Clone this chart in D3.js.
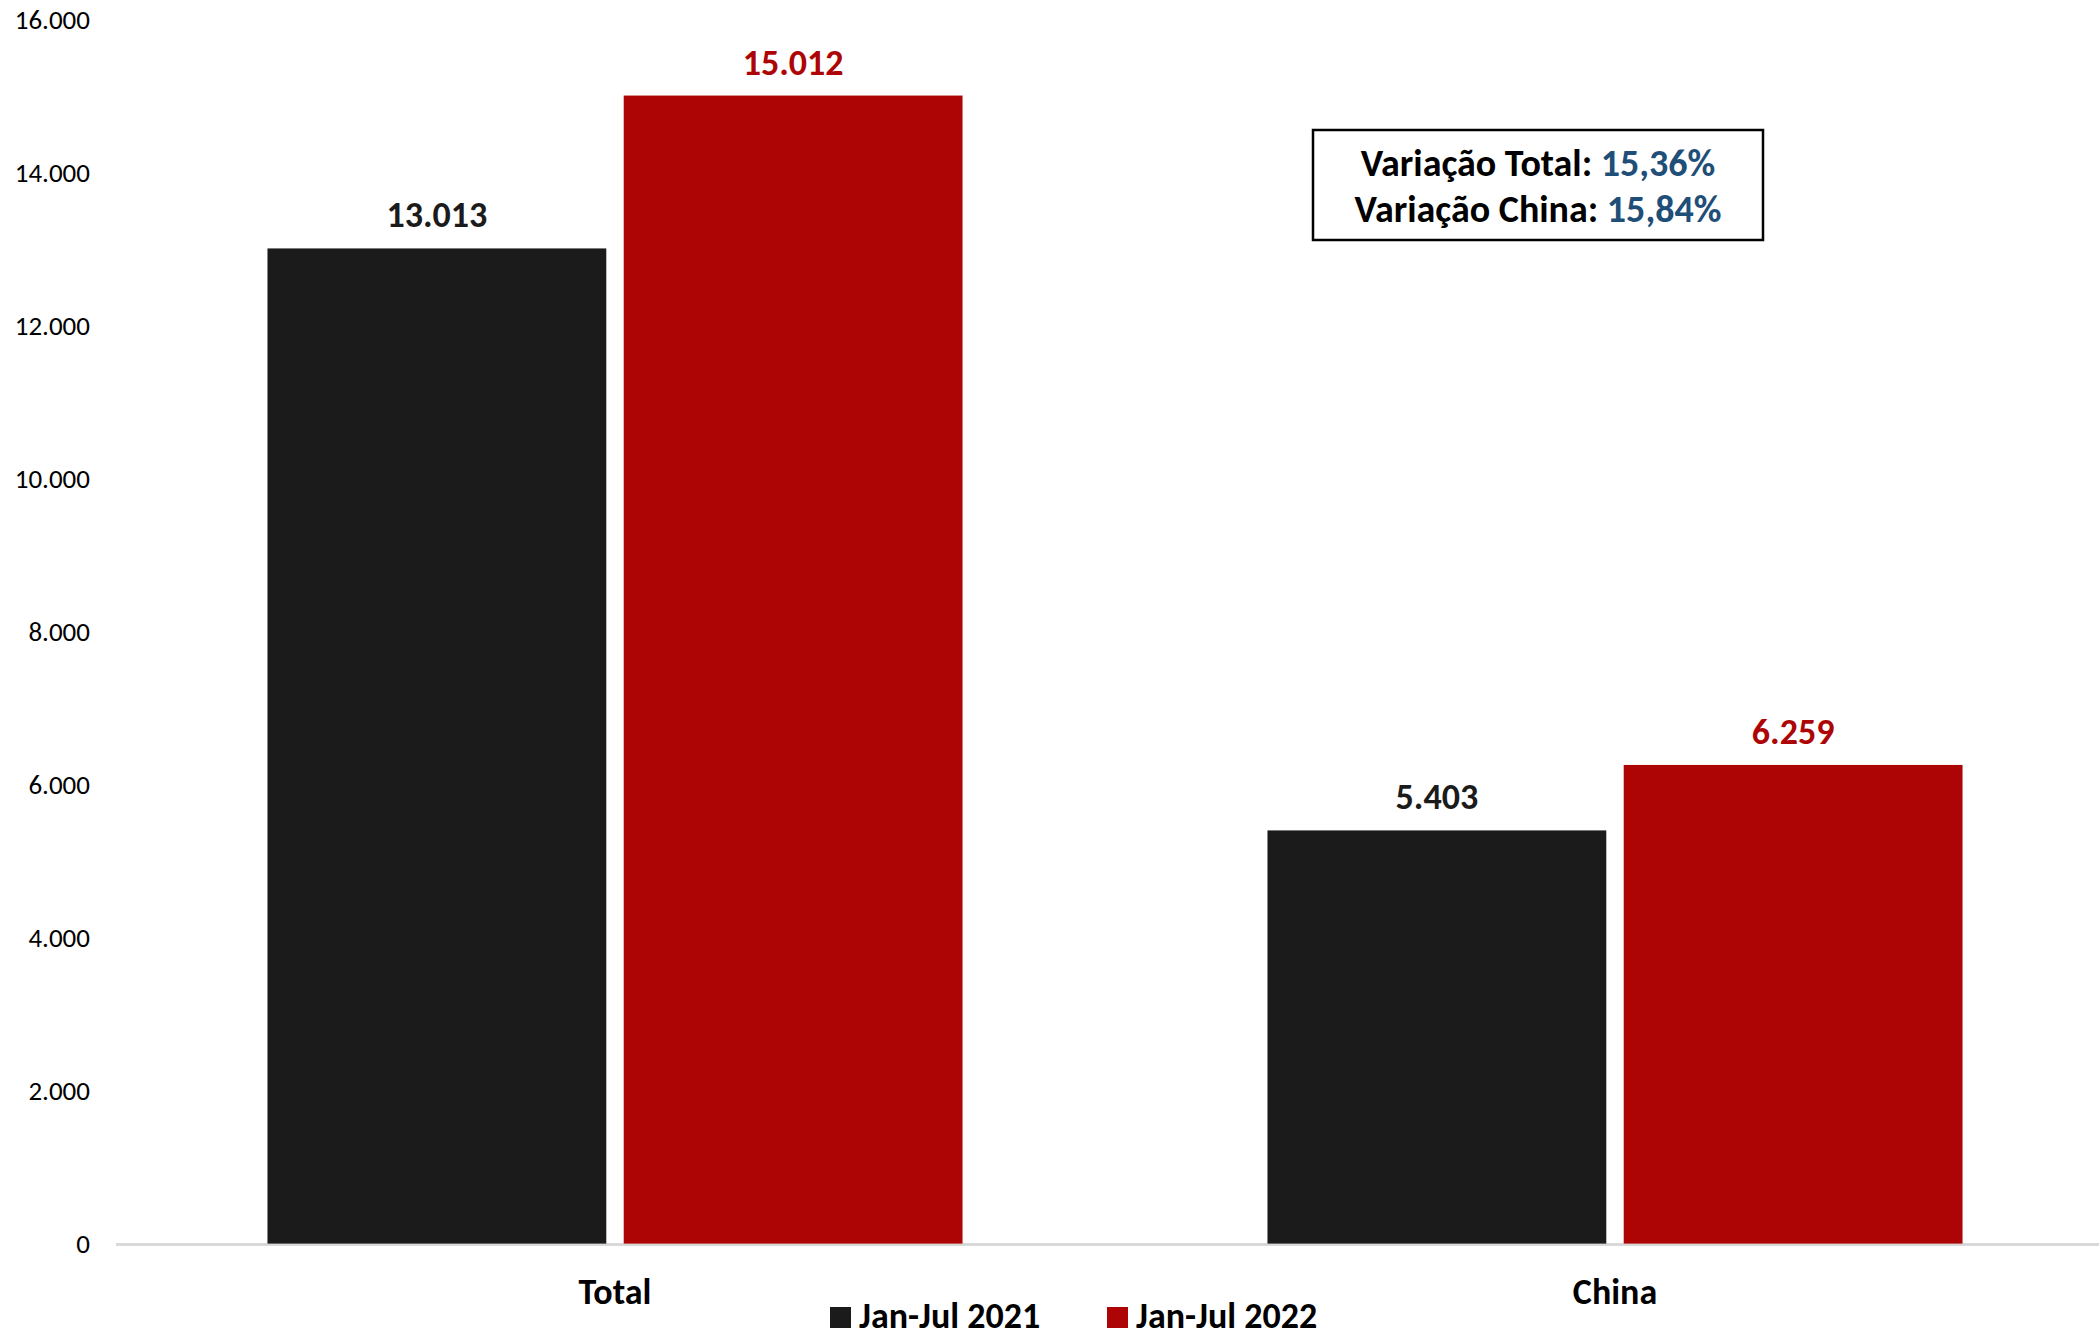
<!DOCTYPE html>
<html>
<head>
<meta charset="utf-8">
<script src="https://cdn.jsdelivr.net/npm/d3@7"></script>
<style>
  body { margin: 0; background: #fff; }
  svg { display: block; font-family: Carlito, Calibri, Lato, sans-serif; }
</style>
</head>
<body>
<svg id="chart" width="2099" height="1340"></svg>
<script>
"use strict"

const categories = ["Total", "China"]
const series = ["Jan-Jul 2021", "Jan-Jul 2022"]
const values2021 = [13013, 5403]
const values2022 = [15012, 6259]
const yTicks = [0, 2000, 4000, 6000, 8000, 10000, 12000, 14000, 16000]
const noteLabels = ["Variação Total: ", "Variação China: "]
const noteValues = ["15,36%", "15,84%"]

const colors = ["#1b1b1b", "#ad0505"]
const labelColors = ["#1b1b1b", "#ad0505"]

const svg = d3.select("#chart")
const margin = {left: 115, top: 20, bottom: 1243.6}

const locale = d3.formatLocale({decimal: ",", thousands: ".", grouping: [3], currency: ["", ""]})
const fmt = locale.format(",d")

const x = d3.scaleBand()
    .domain(categories)
    .range([margin.left, margin.left + 2000])
    .paddingInner(0)
    .paddingOuter(0)

const xInner = d3.scaleBand()
    .domain(series)
    .range([0, x.bandwidth()])
    .paddingInner(0.0489)
    .paddingOuter(0.428)

const y = d3.scaleLinear()
    .domain([0, 16000])
    .range([margin.bottom, margin.top])

const table = categories.map((c, i) => ({cat: c, vals: [values2021[i], values2022[i]]}))

// y axis labels only
const yAxis = d3.axisLeft(y).tickValues(yTicks).tickFormat(fmt).tickSize(0).tickPadding(0)
svg.append("g")
    .attr("transform", "translate(90,0)")
    .call(yAxis)
    .call(g => g.select(".domain").remove())
    .selectAll("text")
    .style("font-size", "27px")
    .style("font-family", "Carlito, Calibri, Lato, sans-serif")
    .attr("fill", "#000")

// baseline
svg.append("line")
    .attr("x1", margin.left + 1)
    .attr("x2", 2099)
    .attr("y1", y(0) + 1)
    .attr("y2", y(0) + 1)
    .attr("stroke", "#d9d9d9")
    .attr("stroke-width", 3)

const groups = svg.selectAll(".grp")
    .data(table)
    .enter()
    .append("g")
    .attr("class", "grp")
    .attr("transform", d => "translate(" + x(d.cat) + ",0)")

groups.selectAll("rect")
    .data(d => d.vals.map((v, i) => ({s: series[i], v: v, i: i})))
    .enter()
    .append("rect")
    .attr("x", d => xInner(d.s))
    .attr("width", xInner.bandwidth())
    .attr("y", d => y(d.v))
    .attr("height", d => y(0) - y(d.v))
    .attr("fill", d => colors[d.i])

groups.selectAll(".lbl")
    .data(d => d.vals.map((v, i) => ({s: series[i], v: v, i: i})))
    .enter()
    .append("text")
    .attr("class", "lbl")
    .attr("x", d => xInner(d.s) + xInner.bandwidth() / 2)
    .attr("y", d => y(d.v) - 21)
    .attr("text-anchor", "middle")
    .style("font-size", "36px")
    .style("font-weight", "bold")
    .attr("fill", d => labelColors[d.i])
    .text(d => fmt(d.v))

// category labels
svg.selectAll(".cat")
    .data(categories)
    .enter()
    .append("text")
    .attr("class", "cat")
    .attr("x", d => x(d) + x.bandwidth() / 2)
    .attr("y", 1304)
    .attr("text-anchor", "middle")
    .style("font-size", "36px")
    .style("font-weight", "bold")
    .attr("fill", "#000")
    .text(d => d)

// legend
const legendX = [830, 1107]
const legend = svg.selectAll(".leg")
    .data(series)
    .enter()
    .append("g")
    .attr("class", "leg")
    .attr("transform", (d, i) => "translate(" + legendX[i] + ",1317)")

legend.append("rect")
    .attr("x", 0)
    .attr("y", -10)
    .attr("width", 21)
    .attr("height", 21)
    .attr("fill", (d, i) => colors[i])

legend.append("text")
    .attr("x", 29)
    .attr("y", 11)
    .style("font-size", "36px")
    .style("font-weight", "bold")
    .attr("fill", "#000")
    .text(d => d)

// annotation box
svg.append("rect")
    .attr("x", 1313)
    .attr("y", 130)
    .attr("width", 450)
    .attr("height", 110)
    .attr("fill", "#fff")
    .attr("stroke", "#000")
    .attr("stroke-width", 2.5)

const note = svg.selectAll(".note")
    .data(noteLabels)
    .enter()
    .append("text")
    .attr("class", "note")
    .attr("x", 1538)
    .attr("y", (d, i) => 176 + i * 46)
    .attr("text-anchor", "middle")
    .style("font-size", "38px")
    .style("font-weight", "bold")

note.append("tspan").attr("fill", "#000").text(d => d)
note.append("tspan").attr("fill", "#1f4e79").text((d, i) => noteValues[i])
</script>
</body>
</html>
